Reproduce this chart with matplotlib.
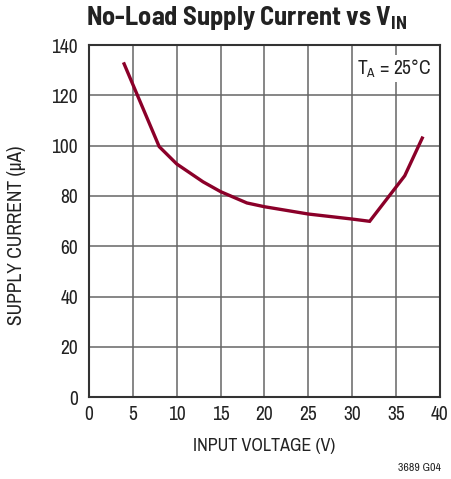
import matplotlib
matplotlib.use("Agg")
import matplotlib.pyplot as plt

plt.rcParams['font.family'] = ['Archivo Narrow', 'DejaVu Sans']
plt.rcParams['mathtext.fontset'] = 'custom'
plt.rcParams['mathtext.rm'] = 'Archivo Narrow'
plt.rcParams['mathtext.bf'] = 'Barlow Semi Condensed:bold'

vin = [4, 8, 10, 13, 15, 18, 20, 25, 30, 32, 36, 38]
current = [132.5, 99.6, 92.7, 85.6, 81.7, 77.2, 75.7, 72.8, 70.8, 69.9, 88, 103]

xticks = [0, 5, 10, 15, 20, 25, 30, 35, 40]
yticks = [0, 20, 40, 60, 80, 100, 120, 140]

fig = plt.figure(figsize=(4.52, 4.79), dpi=100)
ax = fig.add_axes([0.197, 0.171, 0.776, 0.735])

ax.plot(vin, current, color='#8B0029', lw=2.4, solid_joinstyle='miter', zorder=3)

ax.set_xlim(0, 40)
ax.set_ylim(0, 140)
ax.set_xticks(xticks)
ax.set_yticks(yticks)
ax.tick_params(axis='y', length=0, labelsize=14, pad=8, colors='#222222')
ax.tick_params(axis='x', length=0, labelsize=14, pad=6, colors='#222222')
ax.grid(True, color='#666666', lw=1.1)
ax.set_axisbelow(True)
for s in ax.spines.values():
    s.set_color('#333333')
    s.set_linewidth(1.5)

ax.set_xlabel('INPUT VOLTAGE (V)', fontsize=13, color='#222222')
ax.set_ylabel('SUPPLY CURRENT (µA)', fontsize=14, color='#222222')
ax.xaxis.set_label_coords(0.5, -0.115)
ax.yaxis.set_label_coords(-0.18, 0.46)

ax.text(0.975, 0.965, r'$\mathregular{T_A}$ = 25°C', transform=ax.transAxes,
        ha='right', va='top', fontsize=14, color='#222222',
        bbox=dict(facecolor='white', edgecolor='none', pad=2), zorder=4)

fig.text(0.545, 0.963, r'No-Load Supply Current vs V$_{\mathbf{IN}}$', ha='center', va='center',
         fontsize=19, family=['Barlow Semi Condensed'], fontweight='bold', color='#222222')

fig.text(0.975, 0.012, '3689 G04', ha='right', va='bottom', fontsize=8.5, color='#222222')

fig.savefig('out.png', dpi=100)
